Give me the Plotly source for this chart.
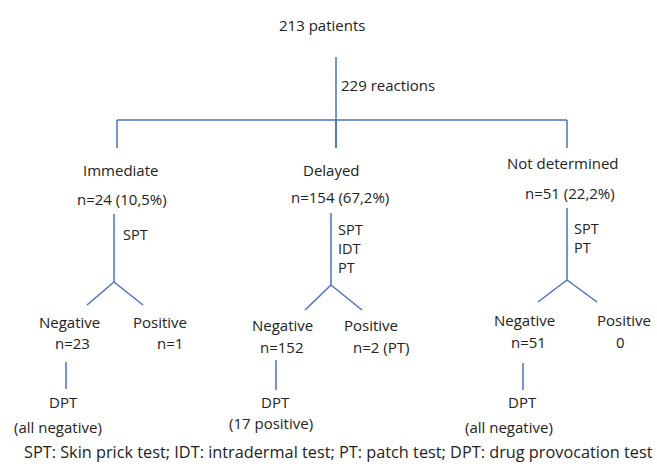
import plotly.graph_objects as go

# ---- data ----
n_patients = 213
n_reactions = 229
categories = ["Immediate", "Delayed", "Not determined"]
counts = [24, 154, 51]
percents = ["10,5%", "67,2%", "22,2%"]
tests = [["SPT"], ["SPT", "IDT", "PT"], ["SPT", "PT"]]
negatives = [23, 152, 51]
positive_labels = ["n=1", "n=2 (PT)", "0"]
dpt_results = ["(all negative)", "(17 positive)", "(all negative)"]
footnote = "SPT: Skin prick test; IDT: intradermal test; PT: patch test; DPT: drug provocation test"

# ---- layout positions (pixels) ----
W, H = 657, 468
LINE = dict(color="#4A72BC", width=1.5)
FONT = dict(family="Open Sans", size=15, color="#222222")
TEST_FONT = dict(family="Open Sans", size=14.5, color="#222222")
FOOT_FONT = dict(family="Open Sans", size=16.3, color="#222222")

branch_x = [117, 336, 567]        # vertical branch line x (top)
cat_x = [120, 331, 563]           # category label centre
cat_y = [170, 170, 163]
cnt_x = [122, 340, 570]
cnt_y = [199, 197, 193]
stem_top = [214, 213, 208]
fork_apex = [(114, 282), (331, 285), (567, 280)]
fork_left = [(87, 305), (305, 310), (538, 302)]
fork_right = [(143, 305), (362, 310), (597, 302)]
test_x = [122, 337, 573]
test_top = [224, 219, 218]
neg_x = [69, 282, 524]
neg_y = [322, 325, 320]
pos_x = [160, 371, 624]
pos_y = [322, 325, 320]
nneg_x = [72, 282, 528]
nneg_y = [343, 347, 342]
npos_x = [170, 381, 620]
dpt_x = [66, 276, 523]
dpt_line = [(362, 389), (360, 390), (363, 390)]
dpt_lbl_x = [63, 275, 522]
dpt_y = [402, 402, 402]
res_x = [58, 271, 509]
res_y = [427, 423, 427]

fig = go.Figure()

def seg(x0, y0, x1, y1):
    fig.add_trace(go.Scatter(x=[x0, x1], y=[y0, y1], mode="lines",
                             line=LINE, hoverinfo="skip", showlegend=False))

ann = []
def txt(x, y, s, anchor="center", font=FONT, yanchor="middle"):
    ann.append(dict(x=x, y=y, xref="x", yref="y", text=s, showarrow=False,
                    xanchor=anchor, yanchor=yanchor, font=font, align="left",
                    borderpad=0))

txt(322, 25, f"{n_patients} patients")
seg(336, 57, 336, 148)
txt(340, 85, f"{n_reactions} reactions", "left")
seg(branch_x[0], 120, branch_x[2], 120)

for i, cat in enumerate(categories):
    seg(branch_x[i], 120, branch_x[i], 148)
    txt(cat_x[i], cat_y[i], cat)
    txt(cnt_x[i], cnt_y[i], f"n={counts[i]} ({percents[i]})")
    ax, ay = fork_apex[i]
    seg(ax, stem_top[i], ax, ay)
    txt(test_x[i], test_top[i], "<br>".join(tests[i]), "left", TEST_FONT, "top")
    seg(ax, ay, *fork_left[i])
    seg(ax, ay, *fork_right[i])
    txt(neg_x[i], neg_y[i], "Negative")
    txt(pos_x[i], pos_y[i], "Positive")
    txt(nneg_x[i], nneg_y[i], f"n={negatives[i]}")
    txt(npos_x[i], nneg_y[i], positive_labels[i])
    seg(dpt_x[i], dpt_line[i][0], dpt_x[i], dpt_line[i][1])
    txt(dpt_lbl_x[i], dpt_y[i], "DPT")
    txt(res_x[i], res_y[i], dpt_results[i])

txt(338, 452, footnote, font=FOOT_FONT)

fig.update_layout(
    width=W, height=H, margin=dict(l=0, r=0, t=0, b=0),
    paper_bgcolor="white", plot_bgcolor="white",
    xaxis=dict(range=[0, W], visible=False, fixedrange=True),
    yaxis=dict(range=[H, 0], visible=False, fixedrange=True),
    annotations=ann, showlegend=False,
)
fig.write_html("out.html", config={"displayModeBar": False},
               post_script="document.body.style.margin='0';document.body.style.overflow='hidden';")
